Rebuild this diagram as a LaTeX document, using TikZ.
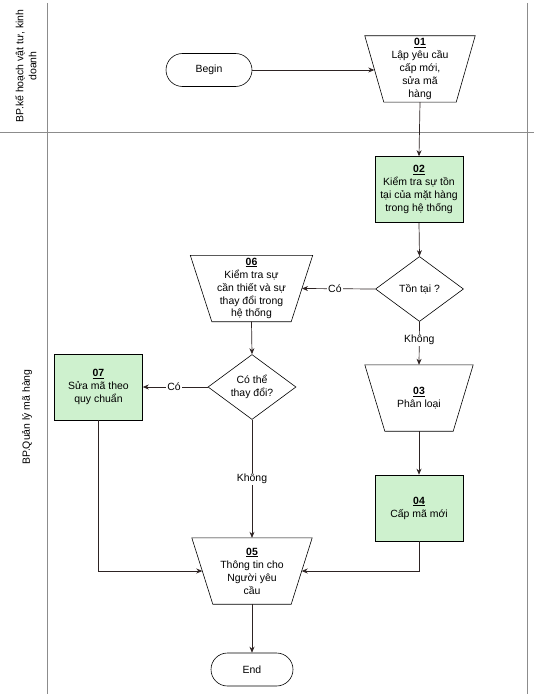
\documentclass[tikz,border=0pt]{standalone}
\usepackage{fontspec}
\setmainfont{Liberation Sans}
\usetikzlibrary{shapes.geometric,arrows.meta,calc}
\definecolor{procgreen}{RGB}{206,241,206}
\definecolor{linkcol}{RGB}{45,35,35}
\definecolor{lanecol}{RGB}{140,140,140}
\newcommand\invtrap[2]{\draw[shapeline] ([xshift=-#2]#1.north west) -- ([xshift=#2]#1.north east) -- ([xshift=-#2]#1.south east) -- ([xshift=#2]#1.south west) -- cycle;}
\begin{document}
\begin{tikzpicture}[x=1bp,y=-1bp,
  every node/.style={font=\fontsize{10.5}{13}\selectfont, align=center, inner sep=0pt},
  shapeline/.style={draw=black, line width=0.6bp},
  term/.style={shapeline, rounded corners=16.5bp, minimum width=86bp, minimum height=33bp},
  proc/.style={shapeline, fill=procgreen, minimum width=88bp, minimum height=66bp},
  dec/.style={shapeline, diamond, aspect=1.33, minimum width=88bp, minimum height=65bp},
  trapbox/.style={rectangle, minimum height=66bp},
  link/.style={draw=linkcol, line width=0.7bp, -{Stealth[length=6bp,width=5bp]}},
  lbl/.style={fill=white, inner sep=1bp},
  lane/.style={draw=lanecol, line width=0.8bp}
]
\useasboundingbox (0,0) rectangle (534,700);
% swimlane frame
\draw[lane] (47,3) -- (47,694);
\draw[lane] (527,3) -- (527,694);
\draw[lane] (0,132) -- (534,132);
\node[rotate=90] (lane1) at (26,66) {BP.kế hoạch vật tư, kinh\\doanh};
\node[rotate=90] (lane2) at (27,417) {BP.Quản lý mã hàng};

% nodes
\node[term] (begin) at (209,70) {Begin};
\node[trapbox, minimum width=91bp] (n01) at (420,69) {\underline{\textbf{01}}\\Lập yêu cầu\\cấp mới,\\sửa mã\\hàng};
\invtrap{n01}{9.5bp}
\node[proc] (n02) at (419,189.5) {\underline{\textbf{02}}\\Kiểm tra sự tồn\\tại của mặt hàng\\trong hệ thống};
\node[dec] (d1) at (419.5,289) {Tồn tại ?};
\node[trapbox, minimum width=100.5bp] (n06) at (251.5,288.5) {\underline{\textbf{06}}\\Kiểm tra sự\\cần thiết và sự\\thay đổi trong\\hệ thống};
\invtrap{n06}{10.75bp}
\node[dec] (d2) at (252,387) {Có thể\\thay đổi?};
\node[proc] (n07) at (98.5,387) {\underline{\textbf{07}}\\Sửa mã theo\\quy chuẩn};
\node[trapbox, minimum width=88bp] (n03) at (419,398) {\underline{\textbf{03}}\\Phân loại};
\invtrap{n03}{10bp}
\node[proc] (n04) at (419,508) {\underline{\textbf{04}}\\Cấp mã mới};
\node[trapbox, minimum width=99bp] (n05) at (252,571) {\underline{\textbf{05}}\\Thông tin cho\\Người yêu\\cầu};
\invtrap{n05}{10.5bp}
\node[term, minimum width=82bp] (end) at (252,669.5) {End};

% connectors
\draw[link] (begin) -- (begin -| n01.west);
\draw[link] (n01.south) -- (n02.north);
\draw[link] (n02.south) -- (d1.north);
\draw[link] (d1.west) -- node[lbl, pos=0.55] {Có} (n06.east);
\draw[link] (d1.south) -- node[lbl, pos=0.42] {Không} (n03.north);
\draw[link] (n03.south) -- (n04.north);
\draw[link] (n06.south) -- (d2.north);
\draw[link] (d2.west) -- node[lbl, pos=0.52] {Có} (n07.east);
\draw[link] (d2.south) -- node[lbl, pos=0.5] {Không} (n05.north);
\draw[link] (n07.south) |- (n05.west);
\draw[link] (n04.south) |- (n05.east);
\draw[link] (n05.south) -- (end.north);
\end{tikzpicture}
\end{document}
